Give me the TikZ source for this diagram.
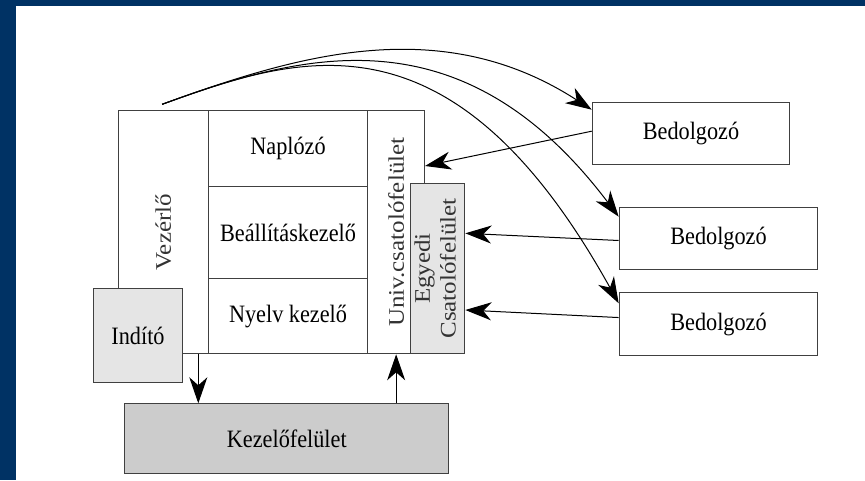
\documentclass[tikz,border=0pt]{standalone}
\usepackage{fontspec}
\setmainfont{Liberation Serif}[FakeStretch=0.89]
\newfontfamily\uprightfont{Liberation Serif}
\usepackage{graphicx}
\usepackage{xcolor}
\usetikzlibrary{arrows.meta, positioning, calc}

\definecolor{slideblue}{RGB}{0,50,100}
\newcommand{\sidetext}[1]{\scalebox{1}[0.89]{\uprightfont #1}}

\begin{document}
\begin{tikzpicture}[
    x=1pt, y=-1pt,
    >={Stealth[length=26pt, width=18pt, inset=8pt]},
    font=\fontsize{25}{29}\selectfont,
    box/.style={draw=black!75, line width=1pt, fill=white, rectangle, inner sep=0pt, anchor=north west},
    shaded/.style={box, fill=black!10},
    dark/.style={box, fill=black!20},
    sidelabel/.style={rotate=90, inner sep=0pt, text=black!80},
    msg/.style={->, line width=1pt}
]

    % --- Frame ---
    \fill[white] (0,0) rectangle (865,480);
    \fill[slideblue] (0,0) rectangle (865,6);
    \fill[slideblue] (0,0) rectangle (16,480);
    \useasboundingbox (0,0) rectangle (865,480);

    % --- Main block ---
    \node[box, minimum width=89.7pt, minimum height=243.3pt] (vez) at (118,110) {};
    \node[sidelabel] at (vez.center) {\sidetext{Vezérlő}};

    \node[box, minimum width=159.6pt, minimum height=75.7pt] (napl) at (207.7,110) {Naplózó};
    \node[box, minimum width=159.6pt, minimum height=92.6pt] (beall) at (207.7,185.7) {Beállításkezelő};
    \node[box, minimum width=159.6pt, minimum height=75pt] (nyelv) at (207.7,278.3) {Nyelv kezelő};

    \node[box, minimum width=56.7pt, minimum height=243.3pt] (univ) at (367.3,110) {};
    \node[sidelabel] at (univ.center) {\sidetext{Univ.csatolófelület}};

    \node[shaded, minimum width=54.3pt, minimum height=170.6pt] (egy) at (410,182.7) {};
    \node[sidelabel] at (egy.center) {\sidetext{\begin{tabular}{@{}c@{}}Egyedi\\Csatolófelület\end{tabular}}};

    \node[shaded, minimum width=89.6pt, minimum height=94pt] (ind) at (92.7,288.3) {Indító};

    % --- User interface ---
    \node[dark, minimum width=324pt, minimum height=70pt] (kez) at (124.3,403.3) {Kezelőfelület};

    % --- Workers ---
    \node[box, minimum width=197.6pt, minimum height=62.6pt] (b1) at (591.7,101.7) {Bedolgozó};
    \node[box, minimum width=198.6pt, minimum height=62pt] (b2) at (618.7,206.7) {Bedolgozó};
    \node[box, minimum width=198.6pt, minimum height=62.7pt] (b3) at (618.7,292.3) {Bedolgozó};

    % --- Control to workers ---
    \coordinate (src) at ($(vez.north)+(-1.2,-5.7)$);
    \draw[msg] (src) .. controls (295.4,55.7) and (440.2,11.6) .. ($(b1.north west)+(0,8)$);
    \draw[msg] (src) .. controls (302.7,53) and (461.8,9) .. ($(b2.north west)+(0,10)$);
    \draw[msg] (src) .. controls (302.7,53) and (453.4,5.8) .. ($(b3.north west)+(0,11)$);

    % --- Workers back to interfaces ---
    \draw[msg] ($(b1.west)+(0,-2.3)$) -- ($(univ.north east)+(0,56)$);
    \draw[msg] ($(b2.west)+(0,2.3)$) -- ($(egy.north east)+(0,50.6)$);
    \draw[msg] ($(b3.west)+(0,-6.6)$) -- ($(egy.north east)+(0,127.3)$);

    % --- User interface links ---
    \draw[msg] ($(vez.south east)+(-10.4,0)$) coordinate (drop) -- (drop |- kez.north);
    \draw[msg] (univ.south |- kez.north) -- (univ.south);

\end{tikzpicture}
\end{document}
